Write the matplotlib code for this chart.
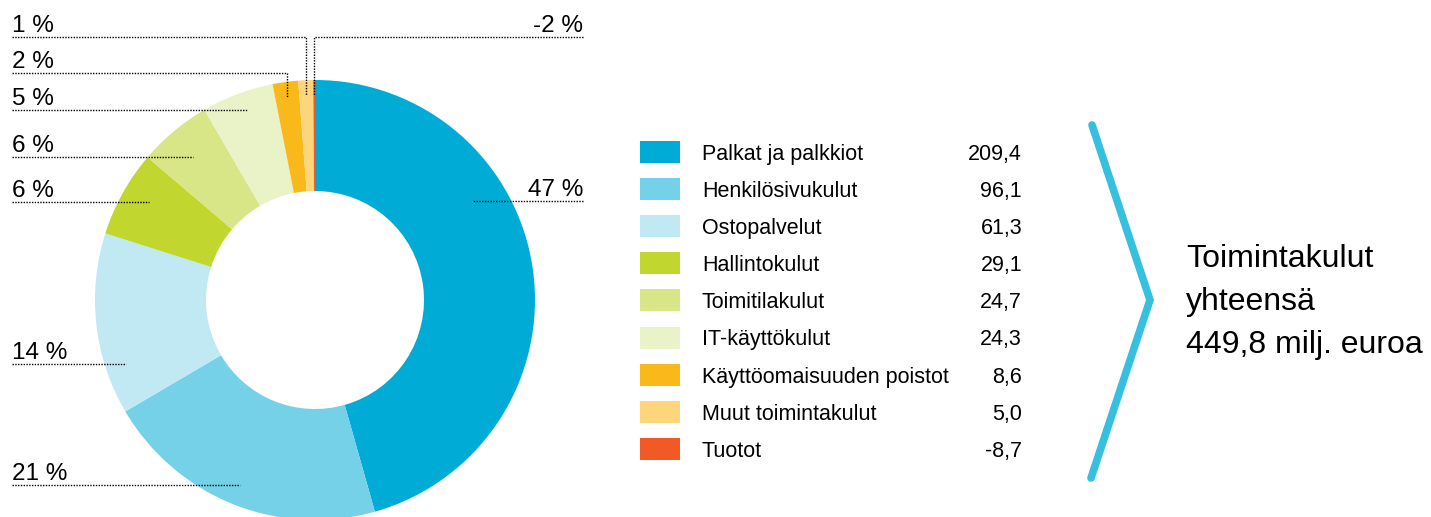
"""Donut chart of operating expenses (Toimintakulut) with a value table on the right."""
import numpy as np
import matplotlib.pyplot as plt
from matplotlib.patches import Rectangle

# data
categories = ['Palkat ja palkkiot', 'Henkilösivukulut', 'Ostopalvelut', 'Hallintokulut',
              'Toimitilakulut', 'IT-käyttökulut', 'Käyttöomaisuuden poistot',
              'Muut toimintakulut', 'Tuotot']
values = [209.4, 96.1, 61.3, 29.1, 24.7, 24.3, 8.6, 5.0, -8.7]
shares = [47, 21, 14, 6, 6, 5, 2, 1, -2]
value_labels = ['209,4', '96,1', '61,3', '29,1', '24,7', '24,3', '8,6', '5,0', '-8,7']
total_lines = ['Toimintakulut', 'yhteensä', '449,8 milj. euroa']

colors = ['#00acd5', '#74d1e7', '#c0e9f3', '#c1d72f', '#d8e688', '#eaf2c8',
          '#f9b91b', '#fdd57b', '#f15a24']

font = ['Liberation Sans', 'DejaVu Sans']

W, H = 1431, 517
fig = plt.figure(figsize=(W / 100, H / 100), dpi=100)

# donut geometry in pixels
cx, cy, R, r_in = 315, 300, 220, 109

# the negative item (Tuotot) is only drawn as a thin marker sliver
sizes = np.array([v if v > 0 else 0.6 for v in values])

ax = fig.add_axes([(cx - R) / W, (H - cy - R) / H, 2 * R / W, 2 * R / H])
ax.pie(sizes, colors=colors, startangle=90, counterclock=False,
       wedgeprops=dict(width=1 - r_in / R, linewidth=0))
ax.set_xlim(-1, 1)
ax.set_ylim(-1, 1)
ax.set_aspect('equal')
ax.axis('off')

# overlay axes in pixel coordinates for labels, leaders, legend
ov = fig.add_axes([0, 0, 1, 1], zorder=5)
ov.set_xlim(0, W)
ov.set_ylim(H, 0)
ov.axis('off')

# slice mid angles, clockwise from top
ends = np.cumsum(sizes) / sizes.sum() * 360
mids = ends - sizes / sizes.sum() * 360 / 2

# label rows, sides and leader depth (layout)
label_rows = [201, 485, 364, 202, 157, 110, 73, 37, 37]
label_side = ['right', 'left', 'left', 'left', 'left', 'left', 'left', 'left', 'right']
leader_r = [160, 200, 190, 190, 190, 190, 205, 205, 205]
x_left, x_right = 12, 583
dot = dict(color='black', lw=1.0, linestyle=(0, (1, 1)))

for i in range(len(values)):
    th = np.radians(mids[i])
    y = label_rows[i]
    x0 = x_left if label_side[i] == 'left' else x_right
    xe = cx + leader_r[i] * np.sin(th)
    if i >= 6:
        # tiny slices at the top get an elbow leader
        ye = cy - leader_r[i] * np.cos(th)
        ov.plot([x0, xe, xe], [y, y, ye], **dot)
    else:
        ov.plot([x0, xe], [y, y], **dot)
    txt = '%d %%' % shares[i]
    ha = 'left' if label_side[i] == 'left' else 'right'
    ov.text(x0, y - 5, txt, ha=ha, va='baseline', fontsize=17.5, family=font)

# legend table
row0, step = 152, 37.1
for i, name in enumerate(categories):
    yc = row0 + i * step
    ov.add_patch(Rectangle((640, yc - 11), 40, 22, color=colors[i], lw=0))
    ov.text(702, yc + 8, name, ha='left', va='baseline', fontsize=15.5, family=font)
    ov.text(1022, yc + 8, value_labels[i], ha='right', va='baseline', fontsize=15.5, family=font)

# chevron and total
ov.plot([1092, 1150, 1091], [125, 300, 478], color='#36bfdf', lw=5.5,
        solid_capstyle='round', solid_joinstyle='miter')
for k, line in enumerate(total_lines):
    ov.text(1186, 267 + k * 43, line, ha='left', va='baseline', fontsize=23, family=font)

plt.savefig('out.png', dpi=100)
